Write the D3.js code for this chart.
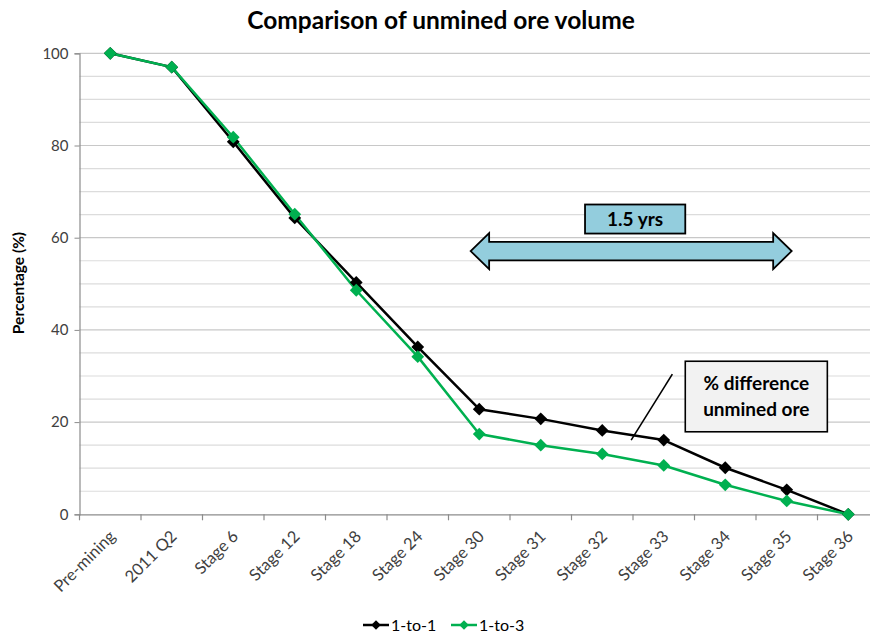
<!DOCTYPE html>
<html>
<head>
<meta charset="utf-8">
<script src="https://cdn.jsdelivr.net/npm/d3@7"></script>
<style>
  html, body { margin: 0; padding: 0; background: #fff; }
  svg { display: block; font-family: Lato, "Open Sans", sans-serif; }
</style>
</head>
<body>
<svg id="chart" width="870" height="634"></svg>
<script>
const categories = ["Pre-mining", "2011 Q2", "Stage 6", "Stage 12", "Stage 18", "Stage 24",
  "Stage 30", "Stage 31", "Stage 32", "Stage 33", "Stage 34", "Stage 35", "Stage 36"];
const series1to1 = [100, 97, 80.8, 64.3, 50.3, 36.3, 22.8, 20.7, 18.2, 16.1, 10.1, 5.3, 0];
const series1to3 = [100, 97, 81.8, 65.1, 48.6, 34.2, 17.4, 15.0, 13.1, 10.6, 6.4, 2.9, 0];
const seriesNames = ["1-to-1", "1-to-3"];
const seriesColors = ["#000000", "#00B050"];
const yTicks = [0, 20, 40, 60, 80, 100];
const yGrid = [5, 10, 15, 20, 25, 30, 35, 40, 45, 50, 55, 60, 65, 70, 75, 80, 85, 90, 95, 100];
const title = "Comparison of unmined ore volume";
const yLabel = "Percentage (%)";
const arrowLabel = "1.5 yrs";
const noteLines = ["% difference", "unmined ore"];

(function () {
const svg = d3.select("#chart");
const pLeft = 79.5, pTop = 53.3, pBottom = 514.3, step = 61.5;
const x = d3.scaleBand().domain(categories).range([pLeft, pLeft + step * categories.length]).padding(0);
const y = d3.scaleLinear().domain([0, 100]).range([pBottom, pTop]);
const cx = (i) => x(categories[0]) + x.bandwidth() * (i + 0.5);

// Gridlines
svg.append("g").selectAll("line").data(yGrid).join("line")
  .attr("x1", pLeft).attr("x2", 880)
  .attr("y1", d => y(d)).attr("y2", d => y(d))
  .attr("stroke", d => d % 20 === 0 ? "#c8c8c8" : "#dcdcdc").attr("stroke-width", 1.2);

// Y axis
const yAxis = svg.append("g").attr("transform", `translate(${pLeft},0)`)
  .call(d3.axisLeft(y).tickValues(yTicks).tickSize(5).tickPadding(6));
yAxis.select(".domain").attr("stroke", "#8c8c8c").attr("stroke-width", 1.2);
yAxis.selectAll(".tick line").attr("stroke", "#8c8c8c");
yAxis.selectAll(".tick text").attr("font-size", 15).attr("fill", "#404040")
  .attr("font-family", "Lato, sans-serif");

// X axis
const xAxis = svg.append("g").attr("transform", `translate(0,${pBottom})`)
  .call(d3.axisBottom(x).tickSize(0).tickFormat(""));
xAxis.select(".domain").attr("stroke", "#8c8c8c").attr("stroke-width", 1.2);
const edges = d3.range(categories.length + 1).map(i => pLeft + i * x.bandwidth());
svg.append("g").selectAll("line").data(edges).join("line")
  .attr("x1", d => d).attr("x2", d => d).attr("y1", pBottom).attr("y2", pBottom + 6)
  .attr("stroke", "#8c8c8c").attr("stroke-width", 1.2);
svg.append("g").selectAll("text").data(categories).join("text")
  .attr("transform", (d, i) => `translate(${cx(i) + 2},${pBottom + 19}) rotate(-45)`)
  .attr("text-anchor", "end").attr("dy", "0.35em")
  .attr("font-size", 16.5).attr("fill", "#404040")
  .text(d => d);

// Lines and markers
const allSeries = [series1to1, series1to3];
const line = d3.line().x((d, i) => cx(i)).y(d => y(d));
allSeries.forEach((s, k) => {
  svg.append("path").datum(s).attr("d", line)
    .attr("fill", "none").attr("stroke", seriesColors[k]).attr("stroke-width", 2.5)
    .attr("stroke-linejoin", "round");
});
allSeries.forEach((s, k) => {
  svg.append("g").selectAll("path").data(s).join("path")
    .attr("d", d3.symbol().type(d3.symbolSquare).size(82))
    .attr("transform", (d, i) => `translate(${cx(i)},${y(d)}) rotate(45)`)
    .attr("fill", seriesColors[k]);
});

// Title
svg.append("text").attr("x", 441).attr("y", 29).attr("text-anchor", "middle")
  .attr("font-size", 24.5).attr("font-weight", "bold").attr("fill", "#000").text(title);

// Y label
svg.append("text").attr("transform", `translate(24,283) rotate(-90)`)
  .attr("text-anchor", "middle").attr("font-size", 15.5).attr("font-weight", "bold")
  .attr("fill", "#000").text(yLabel);

// Double arrow annotation (in data coordinates)
const aL = cx(5.86), aR = cx(11.08);
const aY = y(57.1), headH = y(53.2) - y(61.0), shaftH = y(55.1) - y(59.1);
const headLen = 18.5;
const ap = [
  [aL, aY], [aL + headLen, aY - headH / 2], [aL + headLen, aY - shaftH / 2],
  [aR - headLen, aY - shaftH / 2], [aR - headLen, aY - headH / 2], [aR, aY],
  [aR - headLen, aY + headH / 2], [aR - headLen, aY + shaftH / 2],
  [aL + headLen, aY + shaftH / 2], [aL + headLen, aY + headH / 2]
];
svg.append("path").attr("d", "M" + ap.map(p => p.join(",")).join("L") + "Z")
  .attr("fill", "#93CDDD").attr("stroke", "#000").attr("stroke-width", 1.8)
  .attr("stroke-linejoin", "miter");

// 1.5 yrs box
const bx1 = cx(7.72), bx2 = cx(9.35), by1 = y(67.2), by2 = y(60.9);
svg.append("rect").attr("x", bx1).attr("y", by1).attr("width", bx2 - bx1).attr("height", by2 - by1)
  .attr("fill", "#93CDDD").attr("stroke", "#000").attr("stroke-width", 1.8);
svg.append("text").attr("x", (bx1 + bx2) / 2).attr("y", (by1 + by2) / 2).attr("dy", "0.36em")
  .attr("text-anchor", "middle").attr("font-size", 19).attr("font-weight", "bold").text(arrowLabel);

// Note box
const nx1 = cx(9.35), nx2 = cx(11.66), ny1 = y(33.2), ny2 = y(17.9);
svg.append("line").attr("x1", cx(9.14)).attr("y1", y(30.4)).attr("x2", cx(8.47)).attr("y2", y(16.1))
  .attr("stroke", "#000").attr("stroke-width", 1.6);
svg.append("rect").attr("x", nx1).attr("y", ny1).attr("width", nx2 - nx1).attr("height", ny2 - ny1)
  .attr("fill", "#F2F2F2").attr("stroke", "#000").attr("stroke-width", 1.6);
svg.append("g").selectAll("text").data(noteLines).join("text")
  .attr("x", (nx1 + nx2) / 2).attr("y", (d, i) => (ny1 + ny2) / 2 - 13 + i * 26).attr("dy", "0.36em")
  .attr("text-anchor", "middle").attr("font-size", 19).attr("font-weight", "bold").text(d => d);

// Legend
const legX = [363, 451], legY = 625;
seriesNames.forEach((n, k) => {
  const g = svg.append("g").attr("transform", `translate(${legX[k]},${legY})`);
  g.append("line").attr("x1", 0).attr("x2", 26).attr("y1", 0).attr("y2", 0)
    .attr("stroke", seriesColors[k]).attr("stroke-width", 2.5);
  g.append("path").attr("d", d3.symbol().type(d3.symbolSquare).size(45)())
    .attr("transform", "translate(13,0) rotate(45)").attr("fill", seriesColors[k]);
  g.append("text").attr("x", 28).attr("y", 0).attr("dy", "0.35em")
    .attr("font-size", 16).attr("fill", "#000").text(n);
});
})();
</script>
</body>
</html>
